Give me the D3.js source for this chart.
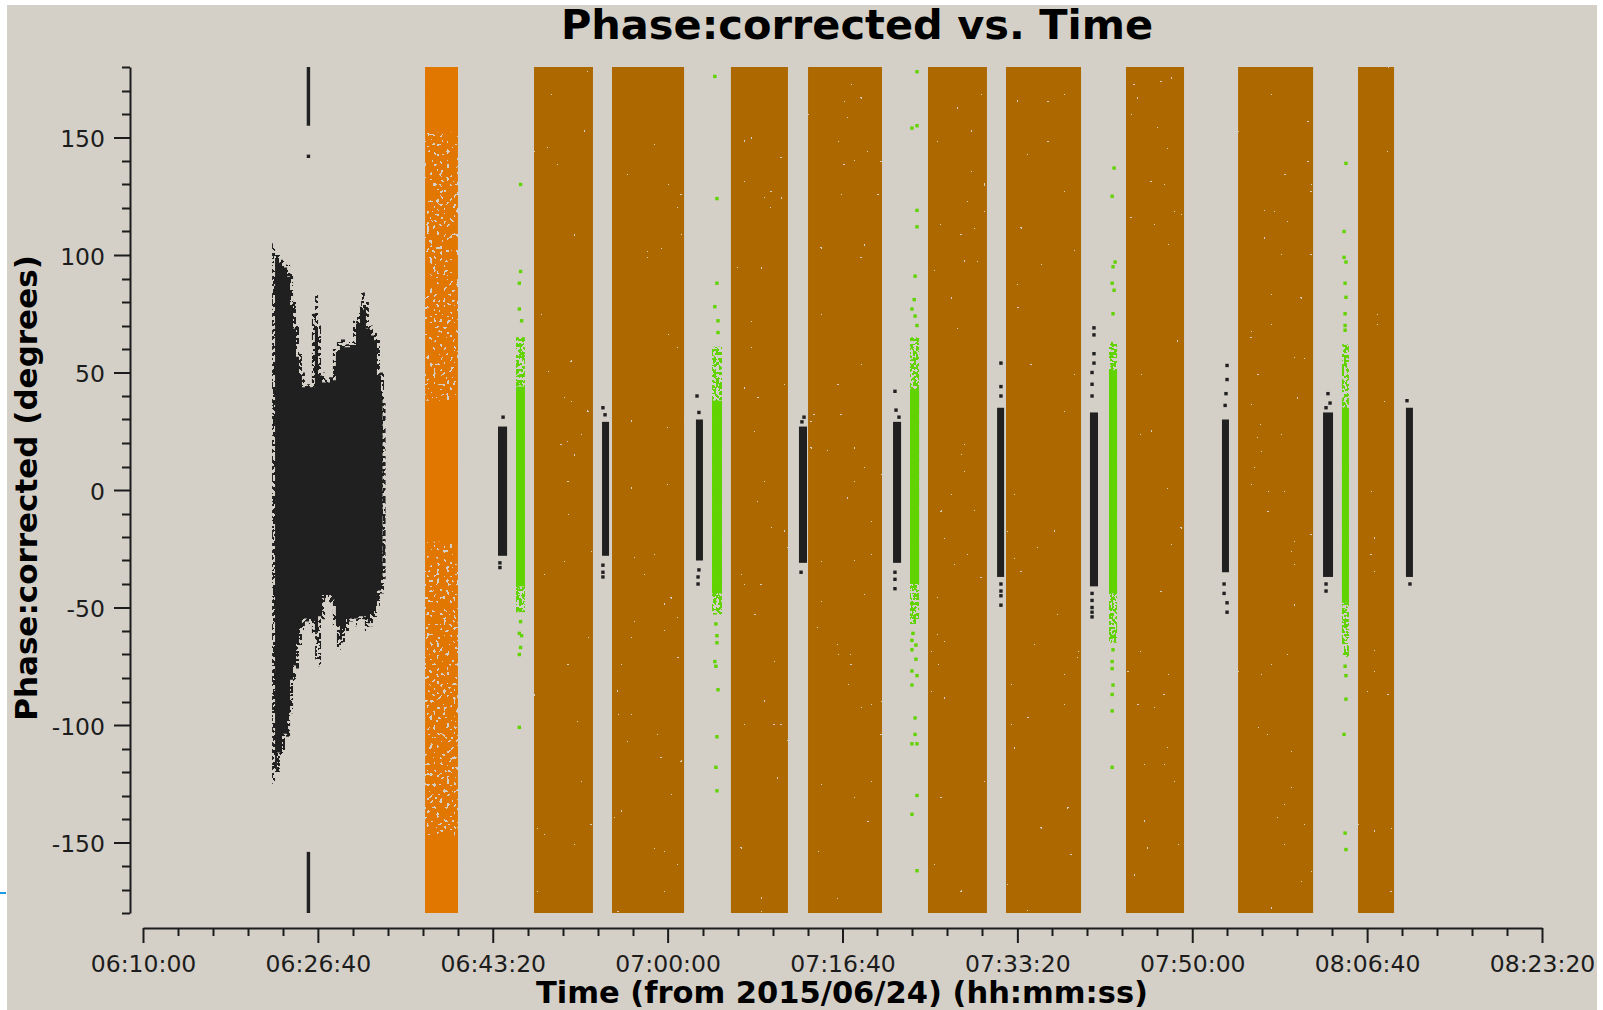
<!DOCTYPE html>
<html>
<head>
<meta charset="utf-8">
<script src="https://cdn.jsdelivr.net/npm/d3@7"></script>
<style>
  html, body { margin: 0; padding: 0; background: #ffffff; }
  svg { display: block; font-family: "DejaVu Sans", sans-serif; }
</style>
</head>
<body>
<svg id="chart" width="1603" height="1010"></svg>
<script>
// ---------------- data ----------------
const timeDomain = ["06:10:00", "08:23:20"];
const phaseDomain = [-180, 180];

const xTickLabels = ["06:10:00", "06:26:40", "06:43:20", "07:00:00", "07:16:40",
                     "07:33:20", "07:50:00", "08:06:40", "08:23:20"];
const yTickValues = [-150, -100, -50, 0, 50, 100, 150];
const xMinorStep = 200;   // seconds
const yMinorStep = 10;    // degrees

// first target scan: phase envelope (upper / lower) over time
const scan1Time = ["06:22:18","06:22:35","06:23:03","06:23:32","06:24:01","06:24:18","06:24:35",
                   "06:24:52","06:25:09","06:25:26","06:25:49","06:26:06","06:26:24","06:26:41",
                   "06:26:58","06:27:21","06:27:44","06:28:06","06:28:29","06:28:52","06:29:15",
                   "06:29:38","06:30:01","06:30:24","06:30:47","06:31:09","06:31:32","06:31:55",
                   "06:32:18","06:32:35","06:32:58"];
const scan1Upper = [105,100,98,96,92,80,70,58,50,45,45,75,83,70,50,47,48,60,63,64,62,63,72,78,84,80,70,67,65,50,40];
const scan1Lower = [-125,-120,-113,-105,-95,-82,-76,-66,-60,-56,-57,-62,-72,-75,-55,-46,-48,-58,-68,-65,
                    -60,-56,-58,-56,-55,-60,-58,-54,-50,-44,-38];
const scan1End = "06:33:07";
// wrapped samples of the first scan near +/-180
const scan1WrapTime = "06:25:46";
const scan1WrapLow = [155, -180];
const scan1WrapHigh = [180, -154];
const scan1WrapDots = [142];

// bandpass calibrator scan
const orangeStart = "06:36:53";
const orangeEnd = "06:40:01";
const orangeSolidLow = [152, -22, -180];
const orangeSolidHigh = [180, 38, -147];

// long target scans, phase spread over the whole range
const brownStart = ["06:47:16","06:54:42","07:06:02","07:13:23","07:24:49","07:32:15","07:43:41","07:54:22","08:05:48"];
const brownEnd   = ["06:52:53","07:01:34","07:11:28","07:20:26","07:30:26","07:39:24","07:49:13","08:01:31","08:09:14"];

// phase calibrator scans
const blackStart = ["06:43:50","06:53:45","07:02:42","07:12:31","07:21:29","07:31:24","07:40:15","07:52:50","08:02:28","08:10:22"];
const blackEnd   = ["06:44:42","06:54:25","07:03:22","07:13:17","07:22:15","07:32:04","07:41:01","07:53:30","08:03:25","08:11:02"];
const blackLow   = [-28, -28, -30, -31, -31, -37, -41, -35, -37, -37];
const blackHigh  = [27, 29, 30, 27, 29, 35, 33, 30, 33, 35];
const blackOutliers = [
  ["06:44:19", 31], ["06:44:01", -31], ["06:44:01", -33],
  ["06:53:50", 35], ["06:54:02", 32], ["06:53:50", -32], ["06:53:50", -35], ["06:53:50", -37],
  ["07:02:48", 40], ["07:02:59", 33], ["07:02:59", -34], ["07:02:54", -37], ["07:02:54", -40],
  ["07:13:00", 31], ["07:12:48", 29], ["07:12:43", -35],
  ["07:21:40", 42], ["07:21:46", 34], ["07:22:03", 31], ["07:21:40", -35], ["07:21:40", -38], ["07:21:40", -42],
  ["07:31:46", 54], ["07:31:46", 44], ["07:31:46", 40], ["07:31:46", -40], ["07:31:46", -43], ["07:31:46", -45], ["07:31:46", -49],
  ["07:40:38", 69], ["07:40:38", 66], ["07:40:38", 58], ["07:40:38", 54], ["07:40:27", 50], ["07:40:27", 45], ["07:40:27", 40],
  ["07:40:27", -44], ["07:40:27", -47], ["07:40:27", -50], ["07:40:27", -52], ["07:40:27", -54],
  ["07:53:19", 53], ["07:53:19", 47], ["07:53:13", 41], ["07:53:08", 36], ["07:53:02", -40], ["07:53:02", -44],
  ["07:53:19", -48], ["07:53:19", -52],
  ["08:02:56", 41], ["08:03:08", 37], ["08:02:45", 35], ["08:02:45", -40], ["08:02:45", -43],
  ["08:10:28", 38], ["08:10:45", -40]
];

// check source scans
const greenStart = ["06:45:33","07:04:14","07:23:06","07:42:04","08:04:16"];
const greenEnd   = ["06:46:24","07:05:11","07:23:58","07:42:50","08:04:56"];
const greenCoreLow    = [-41, -44, -40, -44, -48];
const greenCoreHigh   = [44, 38, 43, 51, 35];
const greenFringeLow  = [-52, -53, -57, -65, -71];
const greenFringeHigh = [65, 61, 65, 63, 62];
const greenOutliers = [
  ["06:45:59", 130], ["06:45:59", 93], ["06:45:52", 88], ["06:45:52", 77], ["06:46:05", 72],
  ["06:45:59", -56], ["06:45:52", -61], ["06:46:05", -62], ["06:45:59", -67], ["06:45:52", -70], ["06:45:52", -101],
  ["07:04:30", 176], ["07:04:42", 124], ["07:04:42", 88], ["07:04:30", 78], ["07:04:48", 72], ["07:04:48", 67],
  ["07:04:36", -57], ["07:04:42", -62], ["07:04:42", -65], ["07:04:30", -73], ["07:04:36", -75],
  ["07:04:48", -85], ["07:04:42", -105], ["07:04:36", -118], ["07:04:42", -128],
  ["07:23:46", 178], ["07:23:46", 155], ["07:23:17", 154], ["07:23:46", 119], ["07:23:46", 112], ["07:23:35", 91],
  ["07:23:30", 81], ["07:23:17", 77], ["07:23:35", 74], ["07:23:46", 70],
  ["07:23:23", -61], ["07:23:17", -64], ["07:23:40", -66], ["07:23:17", -68], ["07:23:40", -72], ["07:23:17", -77],
  ["07:23:46", -79], ["07:23:17", -83], ["07:23:35", -97], ["07:23:35", -104], ["07:23:17", -108], ["07:23:46", -108],
  ["07:23:46", -130], ["07:23:17", -138], ["07:23:46", -162],
  ["07:42:33", 137], ["07:42:22", 125], ["07:42:39", 97], ["07:42:27", 95], ["07:42:22", 88], ["07:42:33", 85], ["07:42:27", 75],
  ["07:42:27", -68], ["07:42:22", -73], ["07:42:22", -76], ["07:42:27", -83], ["07:42:22", -87], ["07:42:22", -94], ["07:42:22", -118],
  ["08:04:39", 139], ["08:04:28", 110], ["08:04:28", 99], ["08:04:39", 97], ["08:04:34", 88], ["08:04:39", 82],
  ["08:04:34", 75], ["08:04:34", 70], ["08:04:34", 68],
  ["08:04:34", -75], ["08:04:39", -79], ["08:04:39", -89], ["08:04:28", -104], ["08:04:34", -146], ["08:04:39", -153]
];

// ---------------- drawing ----------------
const toSec = s => { const [h, m, ss] = s.split(":").map(Number); return h * 3600 + m * 60 + ss; };

const COLORS = {
  panel: "#d4d0c8", ink: "#1c1c1c", black: "#202020",
  brown: "#ad6800", orange: "#e27700", green: "#61d300"
};
const PT = 3.4; // plotted sample size in px

const svg = d3.select("#chart");
svg.append("rect").attr("width", 1603).attr("height", 1010).attr("fill", "#ffffff");
svg.append("rect").attr("x", 7).attr("y", 5).attr("width", 1590).attr("height", 1005).attr("fill", COLORS.panel);
svg.append("line").attr("x1", 0).attr("x2", 6).attr("y1", 893).attr("y2", 893)
  .attr("stroke", "#1d9be2").attr("stroke-width", 2);

const x = d3.scaleLinear().domain(timeDomain.map(toSec)).range([143, 1542]);
const y = d3.scaleLinear().domain(phaseDomain).range([913, 67]);

// speckle textures used to render the sparse/dense point regions
const defs = svg.append("defs");
function addSpeckle(id, cut, freq, seed) {
  const f = defs.append("filter").attr("id", id)
    .attr("x", -0.05).attr("y", -0.01).attr("width", 1.1).attr("height", 1.02)
    .attr("color-interpolation-filters", "sRGB");
  f.append("feTurbulence").attr("type", "fractalNoise").attr("baseFrequency", freq)
    .attr("numOctaves", 1).attr("seed", seed).attr("result", "noise");
  f.append("feColorMatrix").attr("in", "noise").attr("type", "matrix")
    .attr("values", "0 0 0 0 0  0 0 0 0 0  0 0 0 0 0  1 0 0 0 0").attr("result", "r");
  const table = d3.range(50).map(i => (i / 50 < cut ? 0 : 1)).join(" ");
  f.append("feComponentTransfer").attr("in", "r").attr("result", "mask")
    .append("feFuncA").attr("type", "discrete").attr("tableValues", table);
  f.append("feComposite").attr("in", "SourceGraphic").attr("in2", "mask").attr("operator", "in");
}
addSpeckle("sp-brown", 0.22, 0.30, 4);
addSpeckle("sp-mottle", 0.35, 0.30, 9);
addSpeckle("sp-fringe", 0.48, 0.36, 2);
addSpeckle("sp-fray", 0.50, 0.30, 5);

const plot = svg.append("g");

// long target scans
plot.append("g").selectAll("rect").data(brownStart).join("rect")
  .attr("x", d => x(toSec(d)))
  .attr("width", (d, i) => x(toSec(brownEnd[i])) - x(toSec(d)))
  .attr("y", y(180)).attr("height", y(-180) - y(180))
  .attr("fill", COLORS.brown).attr("filter", "url(#sp-brown)");

// bandpass scan: mottled body, dense zones on top
const ox0 = x(toSec(orangeStart)), ox1 = x(toSec(orangeEnd));
plot.append("rect").attr("x", ox0).attr("width", ox1 - ox0)
  .attr("y", y(180)).attr("height", y(-180) - y(180))
  .attr("fill", COLORS.orange).attr("filter", "url(#sp-mottle)");
plot.append("g").selectAll("rect").data(orangeSolidLow).join("rect")
  .attr("x", ox0).attr("width", ox1 - ox0)
  .attr("y", (d, i) => y(orangeSolidHigh[i])).attr("height", (d, i) => y(d) - y(orangeSolidHigh[i]))
  .attr("fill", COLORS.orange);

// first target scan envelope
const env = scan1Time.map((t, i) => ({ t: toSec(t), hi: scan1Upper[i], lo: scan1Lower[i] }));
env.push({ t: toSec(scan1End), hi: scan1Upper[scan1Upper.length - 1], lo: scan1Lower[scan1Lower.length - 1] });
const area = d3.area().curve(d3.curveStepAfter)
  .x(d => x(d.t)).y0(d => y(d.lo)).y1(d => y(d.hi));
const envPath = area(env);
plot.append("path").attr("d", envPath).attr("fill", COLORS.black);
plot.append("path").attr("d", envPath).attr("fill", "none")
  .attr("stroke", COLORS.panel).attr("stroke-width", 6).attr("filter", "url(#sp-fray)");
const wx = x(toSec(scan1WrapTime));
plot.append("g").selectAll("rect").data(scan1WrapLow).join("rect")
  .attr("x", wx - PT / 2).attr("width", PT)
  .attr("y", (d, i) => y(scan1WrapHigh[i])).attr("height", (d, i) => y(d) - y(scan1WrapHigh[i]))
  .attr("fill", COLORS.black);
plot.append("g").selectAll("rect").data(scan1WrapDots).join("rect")
  .attr("x", wx - PT / 2).attr("y", d => y(d) - PT / 2).attr("width", PT).attr("height", PT)
  .attr("fill", COLORS.black);

// phase calibrator scans
plot.append("g").selectAll("rect").data(blackStart).join("rect")
  .attr("x", d => x(toSec(d)))
  .attr("width", (d, i) => x(toSec(blackEnd[i])) - x(toSec(d)))
  .attr("y", (d, i) => y(blackHigh[i])).attr("height", (d, i) => y(blackLow[i]) - y(blackHigh[i]))
  .attr("fill", COLORS.black);
plot.append("g").selectAll("rect").data(blackOutliers).join("rect")
  .attr("x", d => x(toSec(d[0])) - PT / 2).attr("y", d => y(d[1]) - PT / 2)
  .attr("width", PT).attr("height", PT).attr("fill", COLORS.black);

// check source scans
plot.append("g").selectAll("rect").data(greenStart).join("rect")
  .attr("x", d => x(toSec(d)))
  .attr("width", (d, i) => x(toSec(greenEnd[i])) - x(toSec(d)))
  .attr("y", (d, i) => y(greenFringeHigh[i])).attr("height", (d, i) => y(greenFringeLow[i]) - y(greenFringeHigh[i]))
  .attr("fill", COLORS.green).attr("filter", "url(#sp-fringe)");
plot.append("g").selectAll("rect").data(greenStart).join("rect")
  .attr("x", d => x(toSec(d)))
  .attr("width", (d, i) => x(toSec(greenEnd[i])) - x(toSec(d)))
  .attr("y", (d, i) => y(greenCoreHigh[i])).attr("height", (d, i) => y(greenCoreLow[i]) - y(greenCoreHigh[i]))
  .attr("fill", COLORS.green);
plot.append("g").selectAll("rect").data(greenOutliers).join("rect")
  .attr("x", d => x(toSec(d[0])) - PT / 2).attr("y", d => y(d[1]) - PT / 2)
  .attr("width", PT).attr("height", PT).attr("fill", COLORS.green);

// ---------------- axes ----------------
const tickFont = "23.5px";

const yAxis = svg.append("g").attr("transform", "translate(130,0)")
  .call(d3.axisLeft(y).tickValues(yTickValues).tickSize(16).tickSizeOuter(0).tickPadding(9)
    .tickFormat(d => String(d)));
yAxis.select(".domain").attr("stroke", COLORS.ink).attr("stroke-width", 2);
yAxis.selectAll(".tick line").attr("stroke", COLORS.ink).attr("stroke-width", 2);
yAxis.selectAll(".tick text").attr("font-size", tickFont).attr("font-family", "DejaVu Sans")
  .attr("fill", COLORS.ink).attr("dy", "0.40em");
svg.append("g").attr("transform", "translate(130,0)")
  .selectAll("line")
  .data(d3.range(phaseDomain[0], phaseDomain[1] + 1, yMinorStep).filter(v => !yTickValues.includes(v)))
  .join("line")
  .attr("x1", -8).attr("x2", 0).attr("y1", d => Math.round(y(d)) + 0.5).attr("y2", d => Math.round(y(d)) + 0.5)
  .attr("stroke", COLORS.ink).attr("stroke-width", 2);

const xTickValues = xTickLabels.map(toSec);
const xAxis = svg.append("g").attr("transform", "translate(0,928)")
  .call(d3.axisBottom(x).tickValues(xTickValues).tickSize(15).tickSizeOuter(0)
    .tickFormat((d, i) => xTickLabels[i]));
xAxis.select(".domain").attr("stroke", COLORS.ink).attr("stroke-width", 2);
xAxis.selectAll(".tick line").attr("stroke", COLORS.ink).attr("stroke-width", 2);
xAxis.selectAll(".tick text").attr("font-size", tickFont).attr("font-family", "DejaVu Sans")
  .attr("fill", COLORS.ink).attr("y", 44).attr("dy", 0);
const xd = x.domain();
svg.append("g").attr("transform", "translate(0,928)")
  .selectAll("line")
  .data(d3.range(xd[0], xd[1] + 1, xMinorStep).filter(v => !xTickValues.includes(v)))
  .join("line")
  .attr("x1", d => Math.round(x(d)) + 0.5).attr("x2", d => Math.round(x(d)) + 0.5).attr("y1", 0).attr("y2", 8)
  .attr("stroke", COLORS.ink).attr("stroke-width", 2);

// ---------------- titles ----------------
svg.append("text").attr("x", 857).attr("y", 39).attr("text-anchor", "middle")
  .attr("font-size", "41.5px").attr("font-weight", "bold").attr("fill", "#000")
  .text("Phase:corrected vs. Time");
svg.append("text").attr("x", 842).attr("y", 1003).attr("text-anchor", "middle")
  .attr("font-size", "30.5px").attr("font-weight", "bold").attr("fill", "#000")
  .text("Time (from 2015/06/24) (hh:mm:ss)");
svg.append("text").attr("transform", "translate(37,488) rotate(-90)").attr("text-anchor", "middle")
  .attr("font-size", "31px").attr("font-weight", "bold").attr("fill", "#000")
  .text("Phase:corrected (degrees)");
</script>
</body>
</html>
